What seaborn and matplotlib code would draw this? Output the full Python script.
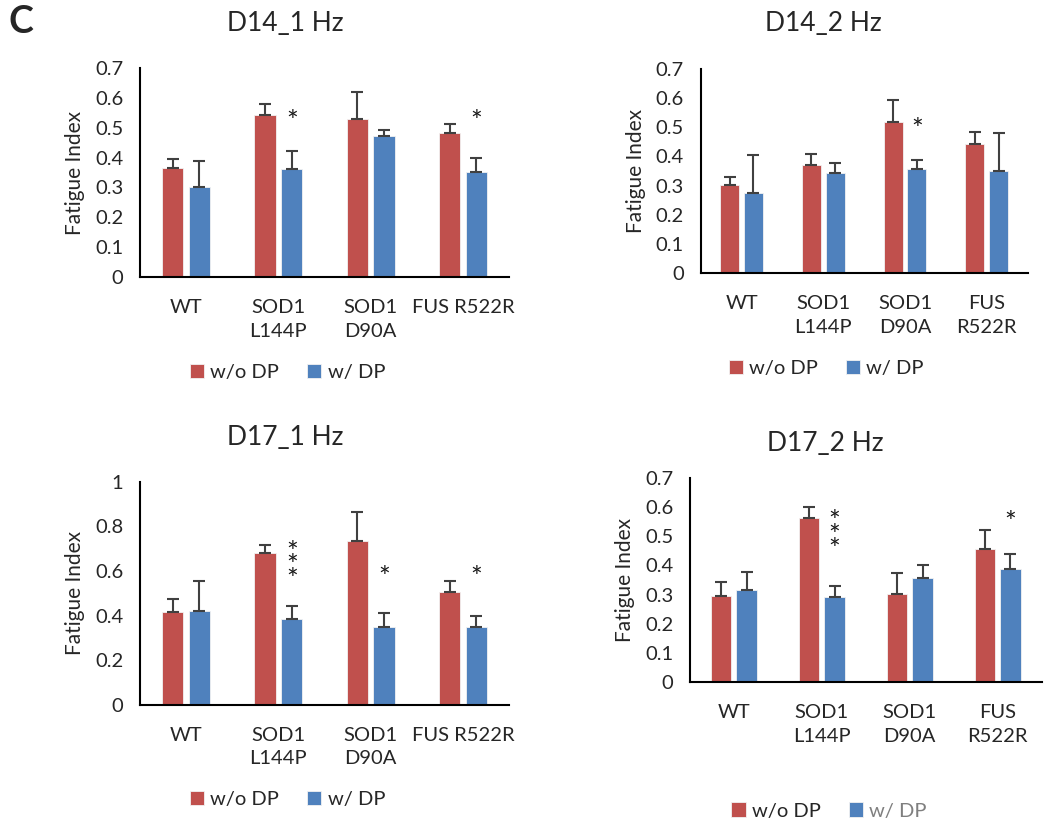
import pandas as pd
import matplotlib
matplotlib.use("Agg")
import matplotlib.pyplot as plt
import seaborn as sns

genotypes = ["WT", "SOD1 L144P", "SOD1 D90A", "FUS R522R"]
labels_one_line = ["WT", "SOD1\nL144P", "SOD1\nD90A", "FUS R522R"]
labels_two_line = ["WT", "SOD1\nL144P", "SOD1\nD90A", "FUS\nR522R"]
groups = ["w/o DP", "w/ DP"]

# D14_1 Hz
d14_1_wo = [0.365, 0.543, 0.530, 0.482]
d14_1_w = [0.303, 0.362, 0.472, 0.352]
d14_1_wo_err = [0.032, 0.038, 0.091, 0.029]
d14_1_w_err = [0.086, 0.059, 0.019, 0.048]

# D14_2 Hz
d14_2_wo = [0.301, 0.371, 0.518, 0.442]
d14_2_w = [0.276, 0.342, 0.356, 0.349]
d14_2_wo_err = [0.028, 0.038, 0.077, 0.041]
d14_2_w_err = [0.130, 0.035, 0.031, 0.130]

# D17_1 Hz
d17_1_wo = [0.414, 0.679, 0.732, 0.505]
d17_1_w = [0.419, 0.384, 0.350, 0.350]
d17_1_wo_err = [0.058, 0.036, 0.133, 0.050]
d17_1_w_err = [0.136, 0.058, 0.061, 0.049]

# D17_2 Hz
d17_2_wo = [0.295, 0.562, 0.303, 0.458]
d17_2_w = [0.317, 0.291, 0.358, 0.387]
d17_2_wo_err = [0.049, 0.038, 0.071, 0.065]
d17_2_w_err = [0.061, 0.039, 0.042, 0.053]

# significance marks: (genotype index, stars, y of middle of the marks)
d14_1_sig = [(1, "*", 0.517), (3, "*", 0.517)]
d14_2_sig = [(2, "*", 0.487)]
d17_1_sig = [(1, "*\n*\n*", 0.616), (2, "*", 0.563), (3, "*", 0.563)]
d17_2_sig = [(1, "*\n*\n*", 0.498), (3, "*", 0.543)]

red = "#C0504D"
blue = "#4F81BD"
err_color = "#404040"

sns.set_theme(style="white")
plt.rcParams["font.family"] = ["Lato", "DejaVu Sans"]

fig = plt.figure(figsize=(10.5, 8.27), dpi=100)

panels = [
    # title, wo, w, wo_err, w_err, sig, labels, ymax, ystep, axes rect, title xy, legend xy
    ("D14_1 Hz", d14_1_wo, d14_1_w, d14_1_wo_err, d14_1_w_err, d14_1_sig, labels_one_line,
     0.7, 0.1, [0.1333, 0.665, 0.3515, 0.2527], (0.393, 1.215), (0.40, -0.455)),
    ("D14_2 Hz", d14_2_wo, d14_2_w, d14_2_wo_err, d14_2_w_err, d14_2_sig, labels_two_line,
     0.7, 0.1, [0.6673, 0.6699, 0.3114, 0.2467], (0.374, 1.225), (0.385, -0.466)),
    ("D17_1 Hz", d17_1_wo, d17_1_w, d17_1_wo_err, d17_1_w_err, d17_1_sig, labels_one_line,
     1.0, 0.2, [0.1333, 0.1479, 0.3515, 0.2696], (0.393, 1.20), (0.40, -0.424)),
    ("D17_2 Hz", d17_2_wo, d17_2_w, d17_2_wo_err, d17_2_w_err, d17_2_sig, labels_two_line,
     0.7, 0.1, [0.6571, 0.1753, 0.3350, 0.2467], (0.384, 1.17), (0.395, -0.632)),
]

for i, (title, wo, w, wo_err, w_err, sig, labels, ymax, ystep,
        rect, title_xy, leg_xy) in enumerate(panels):
    ax = fig.add_axes(rect)
    df = pd.DataFrame({
        "genotype": genotypes * 2,
        "group": [groups[0]] * 4 + [groups[1]] * 4,
        "value": wo + w,
    })
    sns.barplot(data=df, x="genotype", y="value", hue="group", order=genotypes,
                hue_order=groups, palette=[red, blue], saturation=1, width=0.58,
                gap=0.2, errorbar=None, edgecolor="#f2f2f2", linewidth=0.6, ax=ax)

    # upper error bars only, placed on the drawn bars
    for cont, errs in zip(ax.containers, [wo_err, w_err]):
        xs = [p.get_x() + p.get_width() / 2 for p in cont.patches]
        hs = [p.get_height() for p in cont.patches]
        ax.errorbar(xs, hs, yerr=[[0] * len(errs), errs], fmt="none",
                    ecolor=err_color, elinewidth=1.5, capsize=4.5, capthick=1.5,
                    zorder=3)

    blue_x = [p.get_x() + p.get_width() / 2 for p in ax.containers[1].patches]
    for idx, stars, ymid in sig:
        ax.text(blue_x[idx], ymid, stars, ha="center", va="center", fontsize=20,
                linespacing=0.42, color="#1a1a1a")

    ax.set_ylim(0, ymax)
    ax.set_xlim(-0.5, 3.5)
    ticks = [round(k * ystep, 1) for k in range(int(round(ymax / ystep)) + 1)]
    ax.set_yticks(ticks)
    ax.set_yticklabels([f"{t:g}" for t in ticks])
    ax.set_xticks(range(4))
    ax.set_xticklabels(labels, linespacing=1.45)
    ax.tick_params(axis="both", length=0, labelsize=14.5, colors="#262626")
    ax.tick_params(axis="y", pad=12)
    ax.tick_params(axis="x", pad=16)
    ax.set_xlabel("")
    ax.set_ylabel("Fatigue Index", fontsize=15, labelpad=7)
    for s in ["top", "right"]:
        ax.spines[s].set_visible(False)
    for s in ["left", "bottom"]:
        ax.spines[s].set_color("black")
        ax.spines[s].set_linewidth(1.5)

    ax.set_title(title, x=title_xy[0], y=title_xy[1], va="center", fontsize=19, pad=0)

    sns.move_legend(ax, "center", bbox_to_anchor=leg_xy, ncol=2, frameon=False,
                    title=None, fontsize=14.5, handlelength=0.7, handleheight=0.7,
                    handletextpad=0.3, columnspacing=1.4)
    if i == 3:
        ax.get_legend().get_texts()[1].set_color("#7f7f7f")

fig.text(0.008, 0.974, "C", fontsize=27, fontweight="bold", ha="left", va="center")

fig.savefig("out.png", dpi=100)
